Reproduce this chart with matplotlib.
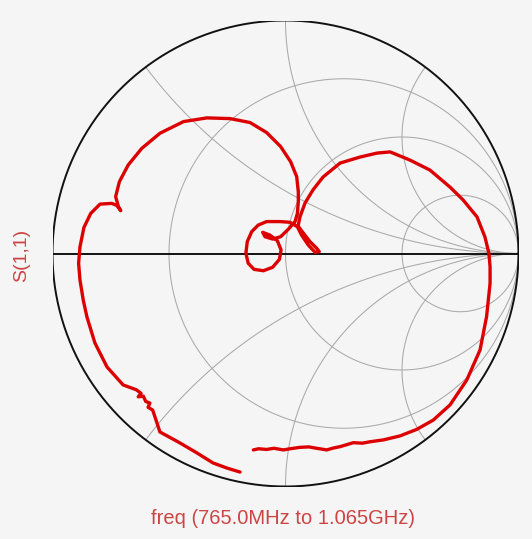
import numpy as np
import matplotlib
matplotlib.use("Agg")
import matplotlib.pyplot as plt

s11_re = [
    -0.138, -0.115, -0.081, -0.050, -0.009, 0.020, 0.062, 0.100, 0.134, 0.177,
    0.205, 0.234, 0.291, 0.330, 0.363, 0.420,
    0.491, 0.563, 0.634, 0.706, 0.778, 0.835, 0.863, 0.878, 0.878, 0.873,
    0.856, 0.822, 0.762, 0.706, 0.620, 0.534, 0.449, 0.393, 0.320, 0.234,
    0.161, 0.118, 0.084, 0.062, 0.054,
    0.077, 0.105, 0.134, 0.145, 0.127, 0.098, 0.069, 0.051, 0.019, -0.024,
    -0.081, -0.117, -0.145, -0.164, -0.170, -0.160, -0.135, -0.095, -0.055, -0.026,
    -0.019, -0.035, -0.067, -0.098, -0.088, -0.055, -0.021, 0.012, 0.041, 0.051,
    0.055, 0.055,
    0.048, 0.022, -0.021, -0.081, -0.152, -0.238, -0.338, -0.438, -0.539, -0.617,
    -0.675, -0.713, -0.729, -0.717, -0.707, -0.725, -0.746, -0.796, -0.836, -0.865,
    -0.882, -0.888, -0.882, -0.868, -0.852, -0.818, -0.766, -0.697, -0.640, -0.620,
    -0.632, -0.610, -0.600, -0.582, -0.590, -0.570,
    -0.560, -0.539, -0.453, -0.380, -0.311, -0.251, -0.195,
]
s11_im = [
    -0.843, -0.838, -0.841, -0.836, -0.843, -0.838, -0.832, -0.830, -0.836, -0.843,
    -0.835, -0.829, -0.812, -0.814, -0.808, -0.800,
    -0.783, -0.755, -0.715, -0.650, -0.543, -0.414, -0.271, -0.128, -0.057, 0.001,
    0.071, 0.157, 0.230, 0.285, 0.358, 0.401, 0.436, 0.431, 0.414, 0.388,
    0.328, 0.273, 0.217, 0.157, 0.118,
    0.087, 0.051, 0.022, 0.008, 0.005, 0.036, 0.079, 0.115, 0.134, 0.137,
    0.137, 0.122, 0.094, 0.051, 0.001, -0.042, -0.068, -0.074, -0.059, -0.025,
    0.015, 0.055, 0.079, 0.091, 0.072, 0.062, 0.072, 0.104, 0.137, 0.172,
    0.222, 0.265,
    0.330, 0.394, 0.459, 0.519, 0.562, 0.579, 0.582, 0.566, 0.516, 0.451,
    0.380, 0.308, 0.244, 0.201, 0.184, 0.207, 0.215, 0.212, 0.172, 0.112,
    0.029, -0.042, -0.114, -0.200, -0.273, -0.384, -0.487, -0.564, -0.585, -0.600,
    -0.615, -0.612, -0.635, -0.642, -0.660, -0.672,
    -0.702, -0.766, -0.813, -0.856, -0.899, -0.921, -0.938,
]

# ---- Smith chart grid values ----
r_values = [1 / 3, 1.0, 3.0]
x_values = [0.5, 1.0, 2.0, -0.5, -1.0, -2.0]

y_label = "S(1,1)"
x_label = "freq (765.0MHz to 1.065GHz)"

# ---- styling ----
bg = "#f5f5f5"
grid_c = "#a9a9a9"
trace_c = "#dd0000"
text_c = "#cc4444"

W, H = 532, 539
fig = plt.figure(figsize=(W / 100, H / 100), dpi=100, facecolor=bg)
cx, cy, R = 285.5, 253.5, 233.0
ax = fig.add_axes([(cx - R) / W, (H - (cy + R)) / H, 2 * R / W, 2 * R / H])
ax.set_facecolor(bg)
ax.set_xlim(-1, 1)
ax.set_ylim(-1, 1)
ax.axis("off")


def gamma(z):
    return (z - 1) / (z + 1)


# resistance circles
t = np.concatenate([-np.logspace(4, -3, 800), [0], np.logspace(-3, 4, 800)])
for r in r_values:
    g = gamma(r + 1j * t)
    ax.plot(g.real, g.imag, color=grid_c, lw=0.75, zorder=1)

# reactance arcs
rr = np.concatenate([[0], np.logspace(-3, 4, 1500)])
for xv in x_values:
    g = gamma(rr + 1j * xv)
    ax.plot(g.real, g.imag, color=grid_c, lw=0.75, zorder=1)

# outer circle and real axis
th = np.linspace(0, 2 * np.pi, 720)
ax.plot(np.cos(th), np.sin(th), color="#111111", lw=1.4, zorder=2)
ax.plot([-1, 1], [0, 0], color="#111111", lw=1.4, zorder=2)

# trace
ax.plot(s11_re, s11_im, color=trace_c, lw=2.4, solid_joinstyle="round",
        solid_capstyle="round", zorder=3)

fig.text(22 / W, 1 - 255 / H, y_label, rotation=90, color=text_c,
         fontsize=14, family="Liberation Sans", ha="center", va="center")
fig.text(283 / W, 1 - 518 / H, x_label, color=text_c,
         fontsize=14.5, family="Liberation Sans", ha="center", va="center")

fig.savefig("out.png", dpi=100, facecolor=bg)
